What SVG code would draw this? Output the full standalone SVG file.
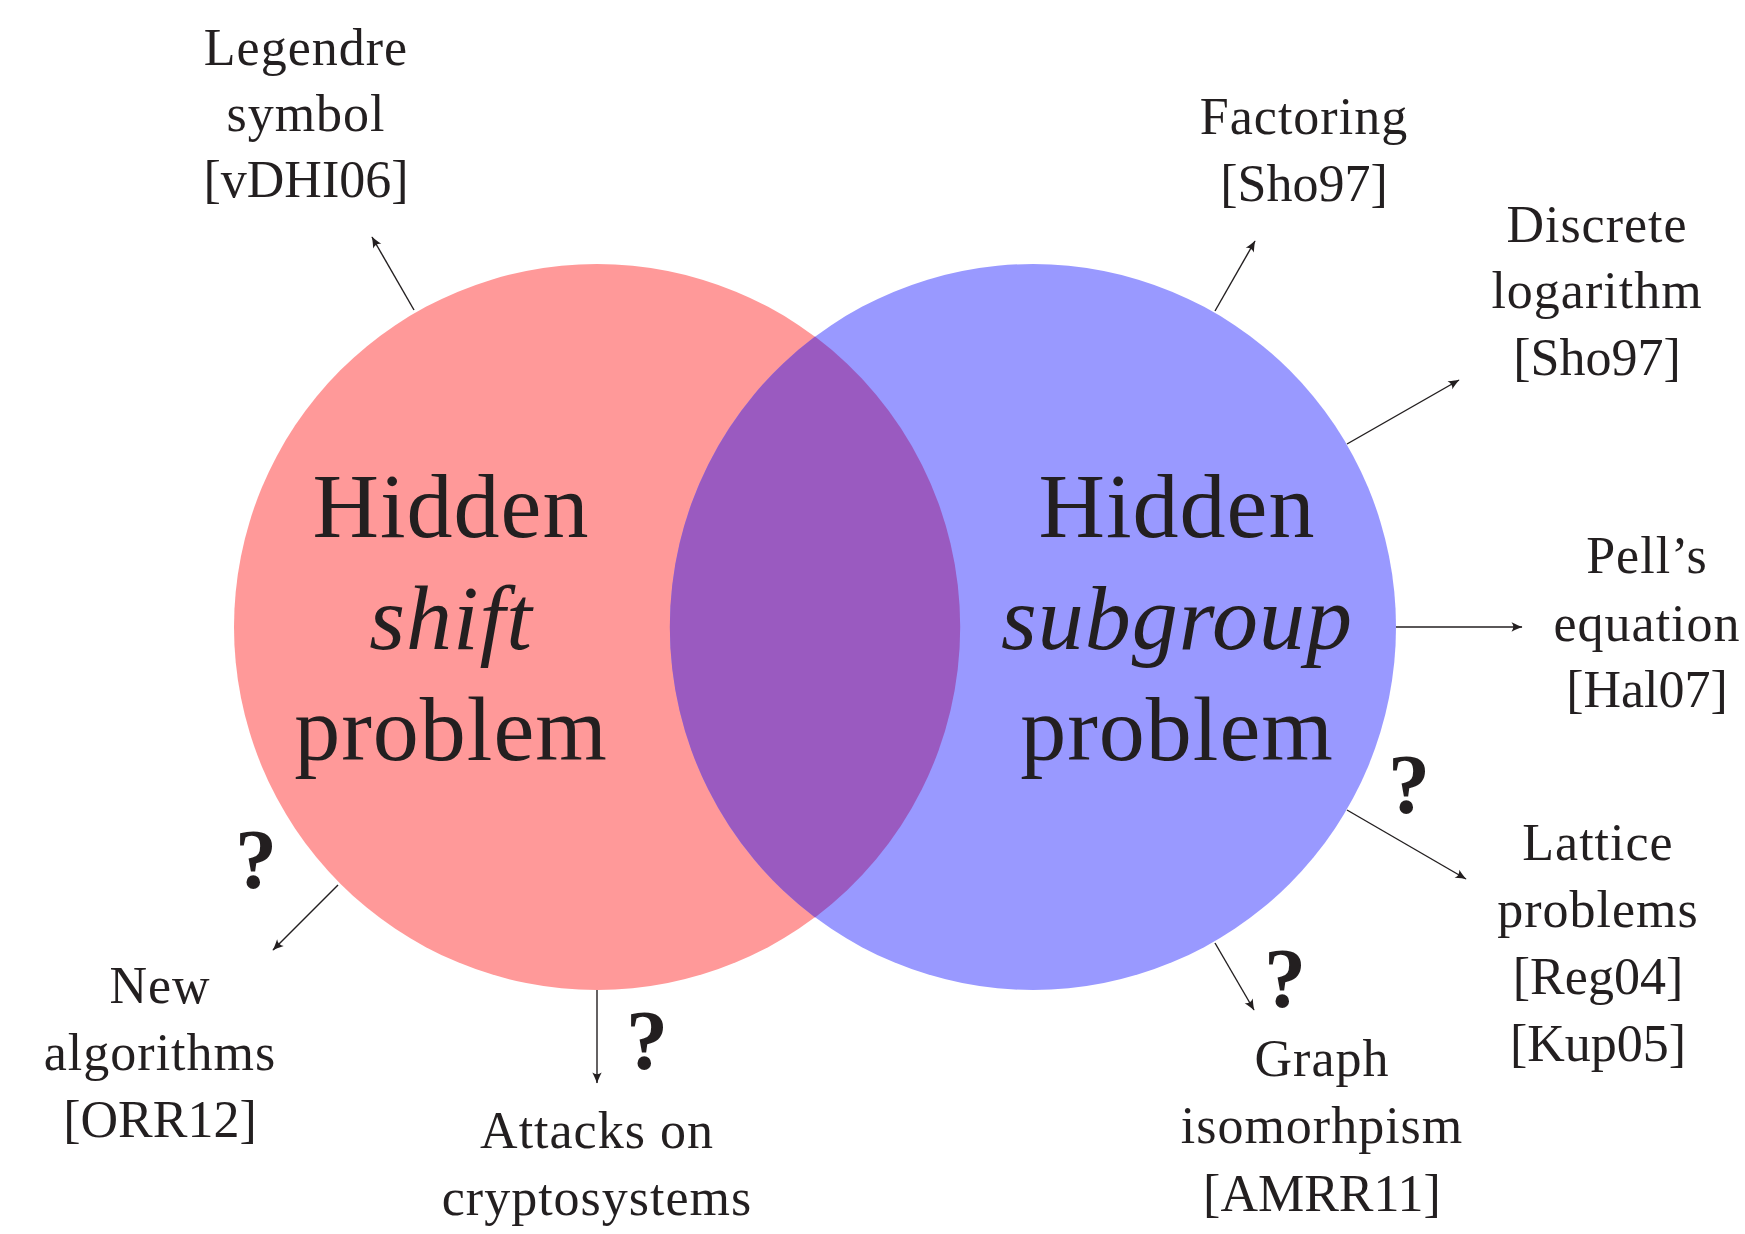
<svg xmlns="http://www.w3.org/2000/svg" width="1745" height="1234" viewBox="0 0 1745 1234">
<style>
.lbl{font-family:"Liberation Serif","DejaVu Serif",serif;font-size:52px;fill:#231f20;text-anchor:middle;letter-spacing:1px}
.br{letter-spacing:0px}
.big{font-family:"Liberation Serif","DejaVu Serif",serif;font-size:92px;fill:#231f20;text-anchor:middle;letter-spacing:1px}
.q{font-family:"Liberation Serif","DejaVu Serif",serif;font-size:84px;font-weight:bold;fill:#231f20;text-anchor:middle}
.conn{stroke:#231f20;stroke-width:1.4;fill:none;marker-end:url(#ah)}
</style>
<defs>
<marker id="ah" markerUnits="userSpaceOnUse" markerWidth="14" markerHeight="12" viewBox="-10 -5 12 10" refX="0" refY="0" orient="auto">
<path d="M-9,-4 Q-3,-1 0.5,0 Q-3,1 -9,4 Q-6,0 -9,-4 Z" fill="#231f20"/>
</marker>
</defs>
<rect width="1745" height="1234" fill="#ffffff"/>
<g id="hidden-shift">
<circle cx="597" cy="627" r="363" fill="#ff9999"/>
</g>
<g id="hidden-subgroup">
<circle cx="1033" cy="627" r="363" fill="#9999ff"/>
</g>
<g id="intersection">
<path d="M815,336.6 A363,363 0 0 1 815,917.4 A363,363 0 0 1 815,336.6 Z" fill="#9a5ac0"/>
</g>
<g id="hsp-label">
<text class="big" x="451" y="537">Hidden</text>
<text class="big" x="451" y="649" font-style="italic">shift</text>
<text class="big" x="451" y="760">problem</text>
</g>
<g id="hsgp-label">
<text class="big" x="1177" y="537">Hidden</text>
<text class="big" x="1177" y="649" font-style="italic">subgroup</text>
<text class="big" x="1177" y="760">problem</text>
</g>
<g id="connectors">
<line class="conn" x1="414" y1="310" x2="372" y2="237"/>
<line class="conn" x1="1215" y1="311" x2="1255" y2="241"/>
<line class="conn" x1="1347" y1="444" x2="1459" y2="380"/>
<line class="conn" x1="1396" y1="627" x2="1522" y2="627"/>
<line class="conn" x1="1347" y1="810" x2="1466" y2="879"/>
<line class="conn" x1="1215" y1="943" x2="1254" y2="1010"/>
<line class="conn" x1="338" y1="885" x2="273" y2="950"/>
<line class="conn" x1="597" y1="990" x2="597" y2="1083"/>
</g>
<g id="legendre">
<text class="lbl" x="306" y="65">Legendre</text>
<text class="lbl" x="306" y="131">symbol</text>
<text class="lbl br" x="306" y="197">[vDHI06]</text>
</g>
<g id="factoring">
<text class="lbl" x="1304" y="134">Factoring</text>
<text class="lbl br" x="1304" y="201">[Sho97]</text>
</g>
<g id="discrete-log">
<text class="lbl" x="1597" y="242">Discrete</text>
<text class="lbl" x="1597" y="308">logarithm</text>
<text class="lbl br" x="1597" y="375">[Sho97]</text>
</g>
<g id="pell">
<text class="lbl" x="1647" y="573">Pell’s</text>
<text class="lbl" x="1647" y="641">equation</text>
<text class="lbl br" x="1647" y="707">[Hal07]</text>
</g>
<g id="lattice">
<text class="lbl" x="1598" y="860">Lattice</text>
<text class="lbl" x="1598" y="927">problems</text>
<text class="lbl br" x="1598" y="994">[Reg04]</text>
<text class="lbl br" x="1598" y="1061">[Kup05]</text>
</g>
<g id="graph-iso">
<text class="lbl" x="1322" y="1076">Graph</text>
<text class="lbl" x="1322" y="1143">isomorhpism</text>
<text class="lbl br" x="1322" y="1211">[AMRR11]</text>
</g>
<g id="new-alg">
<text class="lbl" x="160" y="1003">New</text>
<text class="lbl" x="160" y="1070">algorithms</text>
<text class="lbl br" x="160" y="1137">[ORR12]</text>
</g>
<g id="attacks">
<text class="lbl" x="597" y="1148" letter-spacing="2">Attacks on</text>
<text class="lbl" x="597" y="1215">cryptosystems</text>
</g>
<g id="question-marks">
<text class="q" x="256" y="888">?</text>
<text class="q" x="647" y="1069">?</text>
<text class="q" x="1409" y="813">?</text>
<text class="q" x="1285" y="1007">?</text>
</g>
</svg>
